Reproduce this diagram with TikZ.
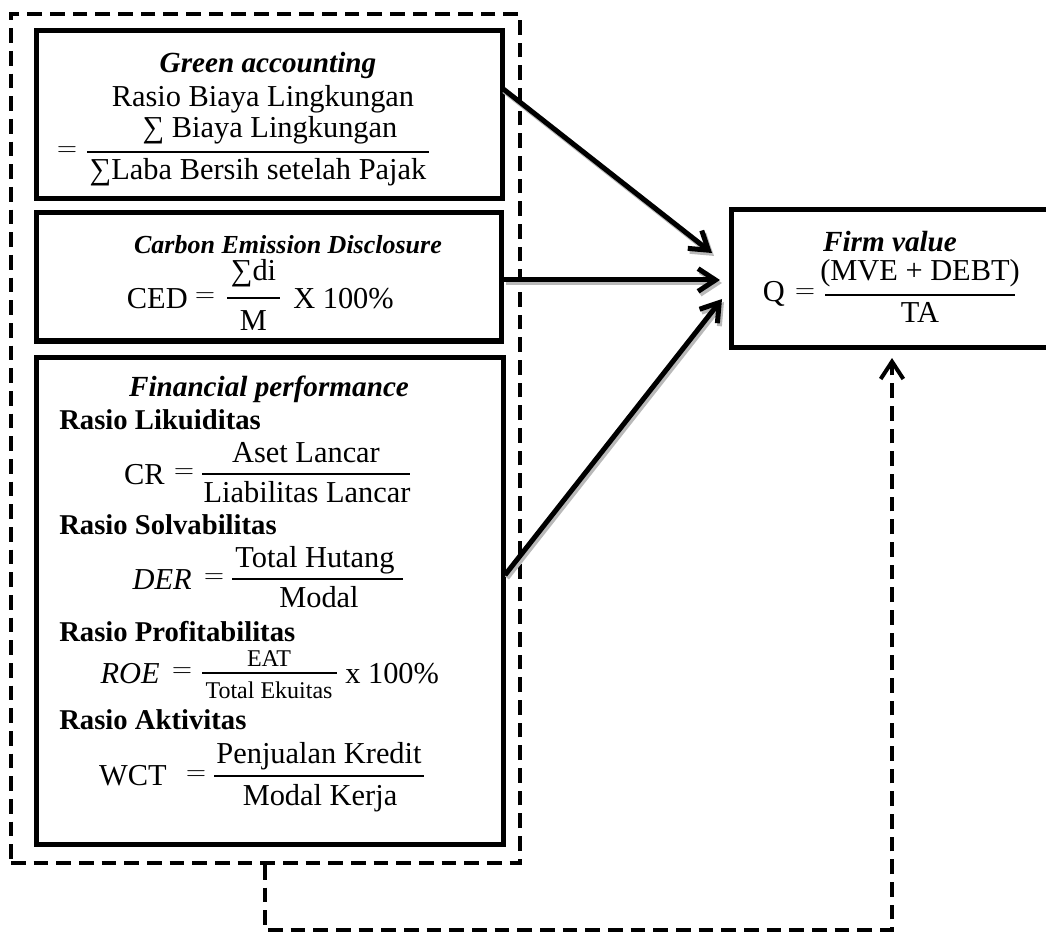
\documentclass[tikz,border=0pt]{standalone}
\usepackage{fontspec}
\usepackage{amsmath}
\setmainfont{Liberation Serif}
\usetikzlibrary{arrows.meta}
\begin{document}
\begin{tikzpicture}[x=0.75pt,y=-0.75pt,
  box/.style={draw, line width=3.75pt, inner sep=0pt},
  dbox/.style={draw, line width=3pt, dash pattern=on 11pt off 6pt, inner sep=0pt},
  ttl/.style={font=\fontsize{21.9}{26}\selectfont\bfseries\itshape, inner sep=0pt, anchor=base},
  hd/.style={font=\fontsize{21.5}{26}\selectfont\bfseries, inner sep=0pt, anchor=base west},
  eqt/.style={font=\fontsize{22.8}{27}\selectfont, inner sep=0pt, anchor=base},
  eql/.style={eqt, anchor=base west},
  eqr/.style={eqt, anchor=base east},
  eqs/.style={eqt, anchor=center},
  sm/.style={font=\fontsize{18}{22}\selectfont, inner sep=0pt, anchor=base},
  fbar/.style={fill=black, inner sep=0pt, minimum height=1.9pt},
  arr/.style={line width=3.75pt, -{Straight Barb[length=13pt,width=17pt]}},
  shd/.style={arr, draw=gray!55},
  fb/.style={line width=3pt, dash pattern=on 11pt off 6pt, -{Straight Barb[length=13pt,width=17pt]}},
]
\useasboundingbox (0,0) rectangle (1046,934);

% boxes
\node[dbox, minimum width=381.75pt, minimum height=636.75pt] (outer) at (265.5,438.5) {};
\node[box, minimum width=349.5pt, minimum height=126pt] (ga) at (269,115) {};
\node[box, minimum width=349pt, minimum height=96pt] (ced) at (269,277) {};
\node[box, minimum width=350.25pt, minimum height=365.25pt] (fp) at (269.5,600.5) {};
\node[box, minimum width=254.25pt, minimum height=102.75pt] (fv) at (900.5,278.5) {};

% Green accounting
\node[ttl] (gat) at (268,72.7) {Green accounting};
\node[eqt] (gar) at (263,107) {Rasio Biaya Lingkungan};
\node[eqs] (gaeq) at (67,152) {$=$};
\node[eqt] (gan) at (270,138) {∑ Biaya Lingkungan};
\node[fbar, minimum width=256.5pt] (gab) at (258,152) {};
\node[eqt] (gad) at (258,180) {∑Laba Bersih setelah Pajak};

% Carbon emission disclosure
\node[ttl, font=\fontsize{19.5}{24}\selectfont\bfseries\itshape] (cedt) at (288,253.5) {Carbon Emission Disclosure};
\node[eqr] (cedl) at (188,309) {CED};
\node[eqs] (cedeq) at (205,298) {$=$};
\node[eqt] (cedn) at (253.5,281) {∑di};
\node[fbar, minimum width=39.75pt] (cedb) at (253.5,298) {};
\node[eqt] (cedd) at (253.5,330) {M};
\node[eql] (cedx) at (293,309) {X 100\%};

% Financial performance
\node[ttl] (fpt) at (269,396.7) {Financial performance};
\node[hd] (h1) at (59,429.7) {Rasio Likuiditas};
\node[eqr] (crl) at (165,484) {CR};
\node[eqs] (creq) at (184,474) {$=$};
\node[eqt] (crn) at (306,462) {Aset Lancar};
\node[fbar, minimum width=156pt] (crb) at (306,474) {};
\node[eqt] (crd) at (307,502) {Liabilitas Lancar};

\node[hd] (h2) at (59,534.7) {Rasio Solvabilitas};
\node[eqr] (derl) at (192,589) {\textit{DER}};
\node[eqs] (dereq) at (214,579) {$=$};
\node[eqt] (dern) at (315,567) {Total Hutang};
\node[fbar, minimum width=128.25pt] (derb) at (317.5,579) {};
\node[eqt] (derd) at (319,607) {Modal};

\node[hd] (h3) at (59,641.7) {Rasio Profitabilitas};
\node[eqr] (roel) at (160,683) {\textit{ROE}};
\node[eqs] (roeeq) at (182,673) {$=$};
\node[sm] (roen) at (269,666) {EAT};
\node[fbar, minimum width=101.25pt] (roeb) at (269.5,673) {};
\node[sm] (roed) at (269,698) {Total Ekuitas};
\node[eql] (roex) at (345,683) {x 100\%};

\node[hd] (h4) at (59,729.7) {Rasio Aktivitas};
\node[eqr] (wctl) at (167,785) {WCT};
\node[eqs] (wcteq) at (196,776) {$=$};
\node[eqt] (wctn) at (319,763) {Penjualan Kredit};
\node[fbar, minimum width=157.5pt] (wctb) at (319,776) {};
\node[eqt] (wctd) at (320,805) {Modal Kerja};

% Firm value
\node[ttl] (fvt) at (890,251.7) {Firm value};
\node[eqr] (fvl) at (785,301) {Q};
\node[eqs] (fveq) at (805,294) {$=$};
\node[eqt] (fvn) at (920,281) {(MVE + DEBT)};
\node[fbar, minimum width=142.5pt, minimum height=2pt] (fvb) at (920,295) {};
\node[eqt] (fvd) at (920,323) {TA};

% arrows
\coordinate (s1) at (502,88);  \coordinate (t1) at (712,253);
\coordinate (s2) at (504,280); \coordinate (t2) at (720,280);
\coordinate (s3) at (505,575); \coordinate (t3) at (722,299);
\draw[shd, transform canvas={xshift=1.5pt,yshift=-2.2pt}] (s1) -- (t1);
\draw[shd, transform canvas={xshift=1.5pt,yshift=-2.2pt}] (s2) -- (t2);
\draw[shd, transform canvas={xshift=1.5pt,yshift=-2.2pt}] (s3) -- (t3);
\draw[arr] (s1) -- (t1);
\draw[arr] (s2) -- (t2);
\draw[arr] (s3) -- (t3);

% feedback dashed connector
\coordinate (f1) at (265,930);
\coordinate (f2) at (892,930);
\coordinate (f3) at (892,358);
\draw[fb] (outer.south -| f1) -- (f1) -- (f2) -- (f3);
\end{tikzpicture}
\end{document}
